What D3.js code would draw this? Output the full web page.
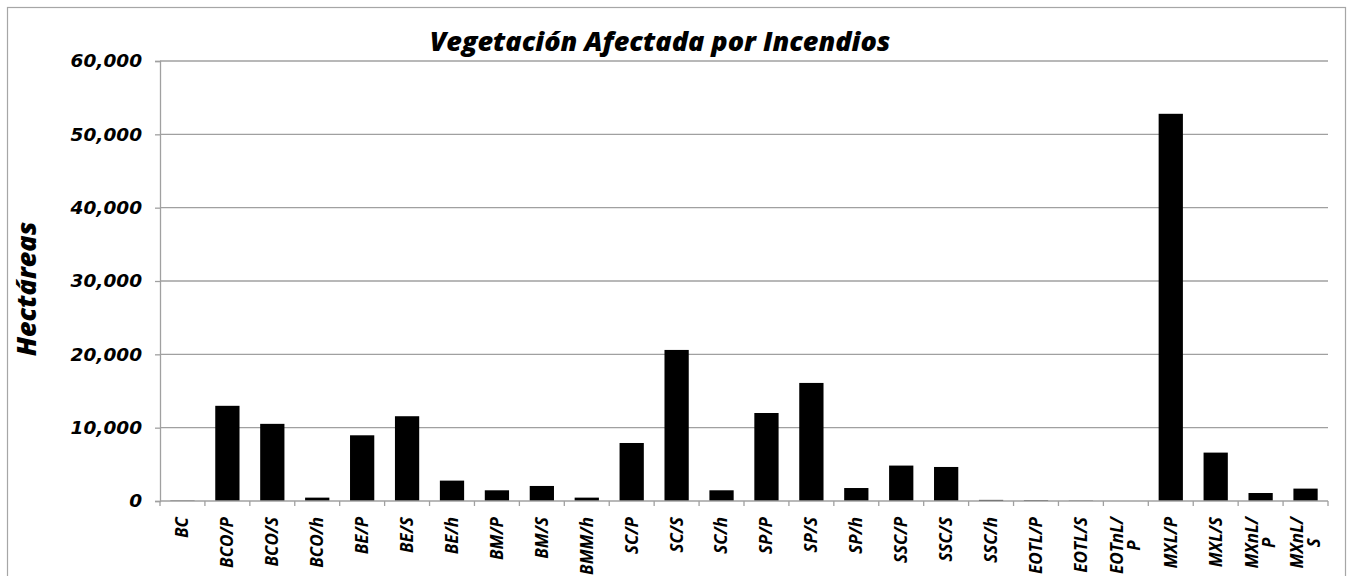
<!DOCTYPE html>
<html lang="es">

<head>
    <meta charset="UTF-8">
    <title>Vegetación Afectada por Incendios</title>
    <style>
        * {
            margin: 0;
            padding: 0;
        }

        html,
        body {
            overflow: hidden;
            background: #fff;
        }
    </style>
</head>

<body>
    <div id="chart"></div>
    <script src="https://cdn.jsdelivr.net/npm/d3@7"></script>
    <script>
        const categories = ['BC', 'BCO/P', 'BCO/S', 'BCO/h', 'BE/P', 'BE/S', 'BE/h', 'BM/P', 'BM/S', 'BMM/h',
            'SC/P', 'SC/S', 'SC/h', 'SP/P', 'SP/S', 'SP/h', 'SSC/P', 'SSC/S', 'SSC/h', 'EOTL/P', 'EOTL/S',
            'EOTnL/P', 'MXL/P', 'MXL/S', 'MXnL/P', 'MXnL/S']
        const hectareas = [60, 12980, 10520, 460, 8960, 11560, 2780, 1460, 2050, 460,
            7910, 20600, 1460, 12000, 16100, 1770, 4830, 4640, 150, 100, 50,
            0, 52800, 6600, 1090, 1690]
        const yTicks = [0, 10000, 20000, 30000, 40000, 50000, 60000]

        function drawChart() {
            const width = 1348
            const height = 576
            const margin = { top: 61, right: 20, bottom: 75, left: 160 }

            const svg = d3.select('#chart')
                .append('svg')
                .attr('width', width)
                .attr('height', height)

            // outer frame
            svg.append('rect')
                .attr('x', 7.5)
                .attr('y', 7.5)
                .attr('width', 1338)
                .attr('height', 600)
                .attr('fill', 'none')
                .attr('stroke', '#a6a6a6')
                .attr('stroke-width', 1.2)

            const x = d3.scaleBand()
                .domain(categories)
                .range([margin.left, width - margin.right])
                .paddingInner(0.46)
                .paddingOuter(0.23)

            const y = d3.scaleLinear()
                .domain([0, 60000])
                .range([height - margin.bottom, margin.top])

            // gridlines
            svg.append('g')
                .selectAll('line')
                .data(yTicks.filter(d => d > 0))
                .join('line')
                .attr('x1', margin.left)
                .attr('x2', width - margin.right)
                .attr('y1', d => y(d))
                .attr('y2', d => y(d))
                .attr('stroke', '#a0a0a0')
                .attr('stroke-width', 1.3)

            // y axis
            const yAxis = svg.append('g')
                .attr('transform', `translate(${margin.left},0)`)
                .call(d3.axisLeft(y).tickValues(yTicks).tickSize(5).tickPadding(13)
                    .tickFormat(d3.format(',')))
            yAxis.select('.domain').attr('stroke', '#a0a0a0').attr('stroke-width', 1.3)
            yAxis.selectAll('.tick line').attr('stroke', '#a0a0a0').attr('stroke-width', 1.3)
            yAxis.selectAll('.tick text')
                .attr('fill', '#000')
                .style('font-family', '"DejaVu Sans", sans-serif')
                .style('font-weight', 'bold')
                .style('font-style', 'italic')
                .style('font-size', '18.5px')

            // bars
            svg.append('g')
                .selectAll('rect')
                .data(categories)
                .join('rect')
                .attr('x', d => x(d))
                .attr('y', (d, i) => y(hectareas[i]))
                .attr('width', x.bandwidth())
                .attr('height', (d, i) => y(0) - y(hectareas[i]))
                .attr('fill', '#000')

            // x axis
            const boundaries = d3.range(categories.length + 1)
                .map(i => margin.left + i * (width - margin.right - margin.left) / categories.length)
            const xAxisG = svg.append('g')
            xAxisG.append('line')
                .attr('x1', margin.left)
                .attr('x2', width - margin.right)
                .attr('y1', y(0))
                .attr('y2', y(0))
                .attr('stroke', '#a0a0a0')
                .attr('stroke-width', 1.3)
            xAxisG.selectAll('.xtick')
                .data(boundaries)
                .join('line')
                .attr('class', 'xtick')
                .attr('x1', d => d)
                .attr('x2', d => d)
                .attr('y1', y(0))
                .attr('y2', y(0) + 5)
                .attr('stroke', '#a0a0a0')
                .attr('stroke-width', 1.3)

            const labels = xAxisG.selectAll('.xlabel')
                .data(categories)
                .join('text')
                .attr('class', 'xlabel')
                .attr('transform', d => `translate(${x(d) + x.bandwidth() / 2},${y(0) + 16}) rotate(-90)`)
                .attr('text-anchor', 'end')
                .style('font-family', '"Open Sans", sans-serif')
                .style('font-weight', 'bold')
                .style('font-style', 'italic')
                .style('font-size', '17px')
                .attr('fill', '#000')

            // labels with "nL/" wrap after the slash, second line centred under the first
            labels.each(function (d) {
                const t = d3.select(this)
                if (d.includes('nL/')) {
                    const cut = d.indexOf('/') + 1
                    const first = t.append('tspan').attr('x', 0).attr('dy', '-0.15em').text(d.slice(0, cut))
                    const len = first.node().getComputedTextLength()
                    t.append('tspan')
                        .attr('x', -len / 2)
                        .attr('dy', '1em')
                        .attr('text-anchor', 'middle')
                        .text(d.slice(cut))
                } else {
                    t.append('tspan').attr('x', 0).attr('dy', '0.35em').text(d)
                }
            })

            // title
            svg.append('text')
                .attr('x', 660)
                .attr('y', 51)
                .attr('text-anchor', 'middle')
                .style('font-family', '"Open Sans", sans-serif')
                .style('font-weight', 800)
                .style('font-style', 'italic')
                .style('font-size', '27px')
                .text('Vegetación Afectada por Incendios')

            // y label
            svg.append('text')
                .attr('transform', 'translate(27,289) rotate(-90)')
                .attr('text-anchor', 'middle')
                .attr('dy', '0.35em')
                .style('font-family', '"Open Sans", sans-serif')
                .style('font-weight', 800)
                .style('font-style', 'italic')
                .style('font-size', '27px')
                .text('Hectáreas')
        }

        drawChart()
    </script>
</body>

</html>
